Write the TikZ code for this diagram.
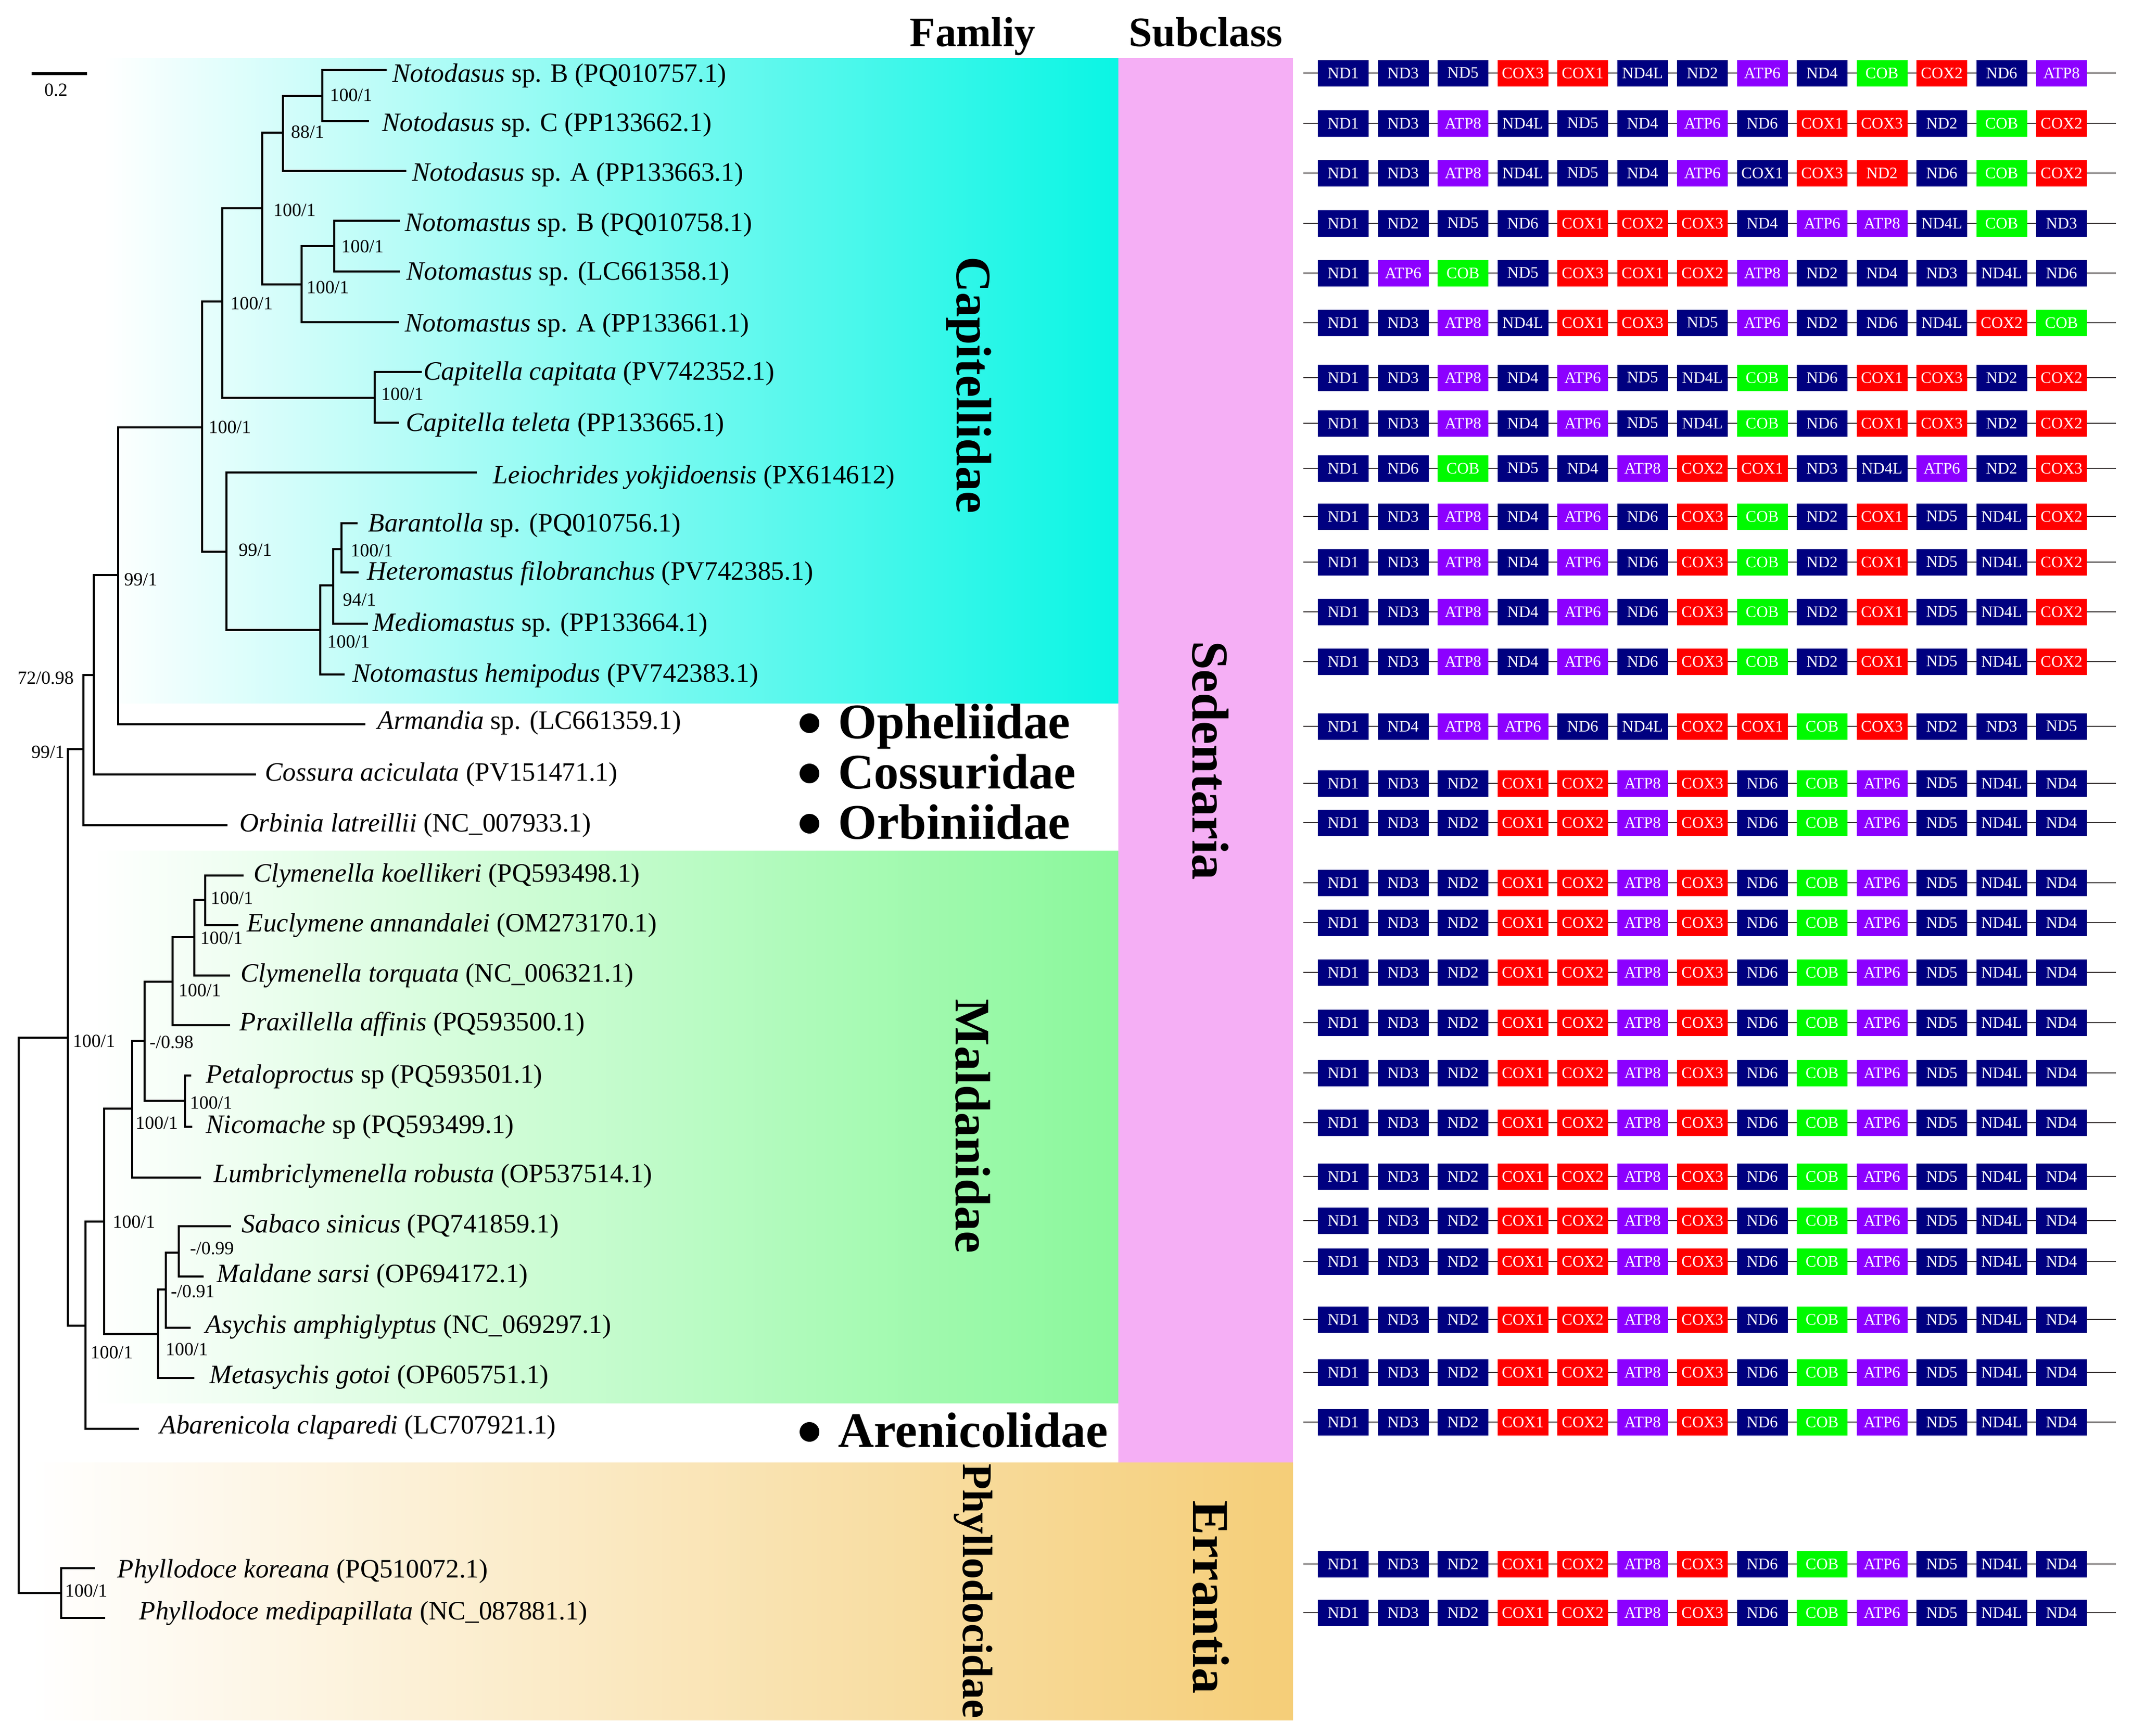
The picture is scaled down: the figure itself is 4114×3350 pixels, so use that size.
\documentclass[tikz,border=0pt]{standalone}
\usepackage{fontspec}
\setmainfont{Liberation Serif}
\usepackage{tikz}
\usetikzlibrary{calc}

\definecolor{capcol}{RGB}{10,245,228}
\definecolor{malcol}{RGB}{138,248,155}
\definecolor{errcol}{RGB}{245,206,120}
\definecolor{sedcol}{RGB}{245,175,245}
\definecolor{ndcol}{RGB}{0,0,128}
\definecolor{coxcol}{RGB}{255,0,0}
\definecolor{atpcol}{RGB}{140,0,255}
\definecolor{cobcol}{RGB}{0,250,0}
\definecolor{linecol}{RGB}{60,55,55}

% one gene order: #1 row, #2 y, #3 genes (name or name/style)
\newcommand{\generow}[3]{%
  \coordinate (b#1w) at (2515,#2);
  \coordinate (b#1e) at (4083,#2);
  \draw[backbone] (b#1w) -- (b#1e);
  \foreach \g/\s [count=\i] in {#3}
    \node[gene, \s] (g#1-\i) at ({2592+115.5*(\i-1)},#2) {\g};
}

\begin{document}
\begin{tikzpicture}[x=0.1mm, y=-0.1mm,
    branch/.style={line width=1.35pt},
    sp/.style={anchor=base west, inner sep=0pt, font=\fontsize{14.6pt}{16pt}\selectfont},
    boot/.style={anchor=west, inner sep=0pt, font=\fontsize{10.2pt}{11pt}\selectfont},
    famlbl/.style={inner sep=0pt, font=\bfseries\fontsize{27.3pt}{30pt}\selectfont},
    sublbl/.style={inner sep=0pt, font=\bfseries\fontsize{28.5pt}{30pt}\selectfont},
    headlbl/.style={anchor=base, inner sep=0pt, font=\bfseries\fontsize{23pt}{26pt}\selectfont},
    backbone/.style={draw=linecol, line width=0.8pt},
    gene/.style={minimum width=9.8mm, minimum height=5.1mm, inner sep=0pt,
                 text=white, font=\fontsize{8.8pt}{9pt}\selectfont},
    ND1/.style={fill=ndcol}, ND2/.style={fill=ndcol}, ND3/.style={fill=ndcol},
    ND4/.style={fill=ndcol}, ND4L/.style={fill=ndcol}, ND5/.style={fill=ndcol},
    ND6/.style={fill=ndcol}, COX1/.style={fill=coxcol}, COX2/.style={fill=coxcol},
    COX3/.style={fill=coxcol}, ATP6/.style={fill=atpcol}, ATP8/.style={fill=atpcol},
    COB/.style={fill=cobcol}]

    \useasboundingbox (0,0) rectangle (4114,3350);

    % Clade backgrounds
    \shade[left color=white, right color=capcol] (200,112) rectangle (2158,1357);
    \shade[left color=white, right color=malcol] (180,1642) rectangle (2158,2708);
    \shade[left color=white, right color=errcol] (60,2823) rectangle (2495,3320);
    \fill[sedcol] (2158,112) rectangle (2495,2823);

    % Headers
    \node[headlbl] (famh) at (1877,89) {Famliy};
    \node[headlbl] (subh) at (2327,89) {Subclass};

    % Family and subclass labels
    \node[famlbl, rotate=-90] (capit) at (1870,743) {Capitellidae};
    \node[famlbl, rotate=-90] (mald) at (1877,2174) {Maldanidae};
    \node[famlbl, rotate=-90, font=\bfseries\fontsize{23.3pt}{26pt}\selectfont]
        (phyl) at (1878,3071) {Phyllodocidae};
    \node[sublbl, rotate=-90] (sed) at (2336,1468) {Sedentaria};
    \node[sublbl, rotate=-90] (err) at (2337,3083) {Errantia};
    \node[famlbl, anchor=base west] (oph) at (1617,1425) {Opheliidae};
    \node[famlbl, anchor=base west] (cos) at (1617,1522) {Cossuridae};
    \node[famlbl, anchor=base west] (orb) at (1617,1619) {Orbiniidae};
    \node[famlbl, anchor=base west] (are) at (1617,2793) {Arenicolidae};
    \foreach \f in {oph,cos,orb,are}
        \fill ($(\f.base west)+(-55,-29)$) circle (19);

    % Scale bar
    \coordinate (sb0) at (61,142);
    \coordinate (sb1) at (168,142);
    \draw[line width=1.6pt] (sb0) -- (sb1);
    \node[boot, anchor=center] (sbl) at (108,174) {0.2};

    % Tips
    \foreach \n/\x/\y in {1/746/135, 2/712/234, 3/784/330, 4/772/426, 5/772/524,
        6/770/622, 7/814/718, 8/770/816, 9/920/912, 10/690/1010, 11/692/1105,
        12/710/1204, 13/665/1302, 14/705/1398, 15/494/1495, 16/439/1593,
        17/470/1690, 18/460/1786, 19/444/1883, 20/444/1979, 21/369/2076,
        22/371/2175, 23/388/2273, 24/446/2367, 25/393/2464, 26/368/2563,
        27/375/2660, 28/268/2758, 29/183/3027, 30/203/3123}
        \coordinate (t\n) at (\x,\y);

    % Internal nodes
    \coordinate (nA) at (622,185);
    \coordinate (nB) at (546,256);
    \coordinate (nC) at (645,475);
    \coordinate (nD) at (582,549);
    \coordinate (nE) at (506,402);
    \coordinate (nF) at (723,768);
    \coordinate (nG) at (429,582);
    \coordinate (nH) at (659,1060);
    \coordinate (nI) at (643,1130);
    \coordinate (nJ) at (618,1216);
    \coordinate (nK) at (437,1065);
    \coordinate (nL) at (390,825);
    \coordinate (nM) at (228,1110);
    \coordinate (nN) at (181,1303);
    \coordinate (nO) at (161,1446);
    \coordinate (nP) at (396,1737);
    \coordinate (nQ) at (375,1809);
    \coordinate (nR) at (333,1895);
    \coordinate (nS) at (357,2125);
    \coordinate (nT) at (279,2009);
    \coordinate (nU) at (255,2140);
    \coordinate (nV) at (345,2418);
    \coordinate (nW) at (320,2489);
    \coordinate (nX) at (305,2575);
    \coordinate (nY) at (201,2358);
    \coordinate (nZ) at (165,2559);
    \coordinate (nSed) at (131,2003);
    \coordinate (nPh) at (118,3075);
    \coordinate (root) at (36,2539);

    % Branches
    \draw[branch] (t1) -| (nA) |- (t2);
    \draw[branch] (nA) -| (nB) |- (t3);
    \draw[branch] (t4) -| (nC) |- (t5);
    \draw[branch] (nC) -| (nD) |- (t6);
    \draw[branch] (nB) -| (nE) |- (nD);
    \draw[branch] (t7) -| (nF) |- (t8);
    \draw[branch] (nE) -| (nG) |- (nF);
    \draw[branch] (t10) -| (nH) |- (t11);
    \draw[branch] (nH) -| (nI) |- (t12);
    \draw[branch] (nI) -| (nJ) |- (t13);
    \draw[branch] (t9) -| (nK) |- (nJ);
    \draw[branch] (nG) -| (nL) |- (nK);
    \draw[branch] (nL) -| (nM) |- (t14);
    \draw[branch] (nM) -| (nN) |- (t15);
    \draw[branch] (nN) -| (nO) |- (t16);
    \draw[branch] (t17) -| (nP) |- (t18);
    \draw[branch] (nP) -| (nQ) |- (t19);
    \draw[branch] (nQ) -| (nR) |- (t20);
    \draw[branch] (t21) -| (nS) |- (t22);
    \draw[branch] (nR) -| (nT) |- (nS);
    \draw[branch] (nT) -| (nU) |- (t23);
    \draw[branch] (t24) -| (nV) |- (t25);
    \draw[branch] (nV) -| (nW) |- (t26);
    \draw[branch] (nW) -| (nX) |- (t27);
    \draw[branch] (nU) -| (nY) |- (nX);
    \draw[branch] (nY) -| (nZ) |- (t28);
    \draw[branch] (nO) -| (nSed) |- (nZ);
    \draw[branch] (t29) -| (nPh) |- (t30);
    \draw[branch] (nSed) -| (root) |- (nPh);

    % Support values
    \node[boot] (bA) at (636,184) {100/1};
    \node[boot] (bB) at (561,255) {88/1};
    \node[boot] (bE) at (527,406) {100/1};
    \node[boot] (bC) at (658,476) {100/1};
    \node[boot] (bD) at (591,555) {100/1};
    \node[boot] (bG) at (444,586) {100/1};
    \node[boot] (bF) at (735,761) {100/1};
    \node[boot] (bL) at (402,825) {100/1};
    \node[boot] (bK) at (460,1062) {99/1};
    \node[boot] (bH) at (676,1063) {100/1};
    \node[boot] (bI) at (661,1158) {94/1};
    \node[boot] (bJ) at (631,1239) {100/1};
    \node[boot] (bM) at (239,1119) {99/1};
    \node[boot, anchor=east] (bN) at (143,1309) {72/0.98};
    \node[boot, anchor=east] (bO) at (125,1452) {99/1};
    \node[boot] (bP) at (406,1734) {100/1};
    \node[boot] (bQ) at (386,1811) {100/1};
    \node[boot] (bR) at (344,1912) {100/1};
    \node[boot] (bSed) at (140,2010) {100/1};
    \node[boot] (bT) at (288,2012) {-/0.98};
    \node[boot] (bS) at (366,2129) {100/1};
    \node[boot] (bU) at (261,2168) {100/1};
    \node[boot] (bY) at (217,2359) {100/1};
    \node[boot] (bV) at (366,2410) {-/0.99};
    \node[boot] (bW) at (329,2493) {-/0.91};
    \node[boot] (bX) at (319,2605) {100/1};
    \node[boot] (bZ) at (174,2611) {100/1};
    \node[boot] (bPh) at (125,3071) {100/1};

    % Species
    \node[sp] (s1) at (757,158) {\textit{Notodasus} sp. B (PQ010757.1)};
    \node[sp] (s2) at (737,253) {\textit{Notodasus} sp. C (PP133662.1)};
    \node[sp] (s3) at (795,349) {\textit{Notodasus} sp. A (PP133663.1)};
    \node[sp] (s4) at (781,446) {\textit{Notomastus} sp. B (PQ010758.1)};
    \node[sp] (s5) at (784,540) {\textit{Notomastus} sp. (LC661358.1)};
    \node[sp] (s6) at (781,640) {\textit{Notomastus} sp. A (PP133661.1)};
    \node[sp] (s7) at (817,733) {\textit{Capitella capitata} (PV742352.1)};
    \node[sp] (s8) at (783,832) {\textit{Capitella teleta} (PP133665.1)};
    \node[sp] (s9) at (951,933) {\textit{Leiochrides yokjidoensis} (PX614612)};
    \node[sp] (s10) at (710,1026) {\textit{Barantolla} sp. (PQ010756.1)};
    \node[sp] (s11) at (708,1119) {\textit{Heteromastus filobranchus} (PV742385.1)};
    \node[sp] (s12) at (719,1218) {\textit{Mediomastus} sp. (PP133664.1)};
    \node[sp] (s13) at (680,1316) {\textit{Notomastus hemipodus} (PV742383.1)};
    \node[sp] (s14) at (728,1407) {\textit{Armandia} sp. (LC661359.1)};
    \node[sp] (s15) at (511,1507) {\textit{Cossura aciculata} (PV151471.1)};
    \node[sp] (s16) at (462,1605) {\textit{Orbinia latreillii} (NC\_007933.1)};
    \node[sp] (s17) at (489,1702) {\textit{Clymenella koellikeri} (PQ593498.1)};
    \node[sp] (s18) at (476,1798) {\textit{Euclymene annandalei} (OM273170.1)};
    \node[sp] (s19) at (464,1895) {\textit{Clymenella torquata} (NC\_006321.1)};
    \node[sp] (s20) at (462,1989) {\textit{Praxillella affinis} (PQ593500.1)};
    \node[sp] (s21) at (397,2090) {\textit{Petaloproctus} sp (PQ593501.1)};
    \node[sp] (s22) at (397,2187) {\textit{Nicomache} sp (PQ593499.1)};
    \node[sp] (s23) at (412,2282) {\textit{Lumbriclymenella robusta} (OP537514.1)};
    \node[sp] (s24) at (466,2379) {\textit{Sabaco sinicus} (PQ741859.1)};
    \node[sp] (s25) at (418,2475) {\textit{Maldane sarsi} (OP694172.1)};
    \node[sp] (s26) at (396,2573) {\textit{Asychis amphiglyptus} (NC\_069297.1)};
    \node[sp] (s27) at (404,2670) {\textit{Metasychis gotoi} (OP605751.1)};
    \node[sp] (s28) at (308,2767) {\textit{Abarenicola claparedi} (LC707921.1)};
    \node[sp] (s29) at (226,3045) {\textit{Phyllodoce koreana} (PQ510072.1)};
    \node[sp] (s30) at (268,3126) {\textit{Phyllodoce medipapillata} (NC\_087881.1)};

    % Gene orders
    \generow{1}{141}{ND1,ND3,ND5,COX3,COX1,ND4L,ND2,ATP6,ND4,COB,COX2,ND6,ATP8}
    \generow{2}{238}{ND1,ND3,ATP8,ND4L,ND5,ND4,ATP6,ND6,COX1,COX3,ND2,COB,COX2}
    \generow{3}{334}{ND1,ND3,ATP8,ND4L,ND5,ND4,ATP6,COX1/ND1,COX3,ND2/COX1,ND6,COB,COX2}
    \generow{4}{431}{ND1,ND2,ND5,ND6,COX1,COX2,COX3,ND4,ATP6,ATP8,ND4L,COB,ND3}
    \generow{5}{527}{ND1,ATP6,COB,ND5,COX3,COX1,COX2,ATP8,ND2,ND4,ND3,ND4L,ND6}
    \generow{6}{623}{ND1,ND3,ATP8,ND4L,COX1,COX3,ND5,ATP6,ND2,ND6,ND4L,COX2,COB}
    \foreach \r/\y in {7/729,8/817}
        {\generow{\r}{\y}{ND1,ND3,ATP8,ND4,ATP6,ND5,ND4L,COB,ND6,COX1,COX3,ND2,COX2}}
    \generow{9}{904}{ND1,ND6,COB,ND5,ND4,ATP8,COX2,COX1,ND3,ND4L,ATP6,ND2,COX3}
    \foreach \r/\y in {10/997,11/1085,12/1181,13/1277}
        {\generow{\r}{\y}{ND1,ND3,ATP8,ND4,ATP6,ND6,COX3,COB,ND2,COX1,ND5,ND4L,COX2}}
    \generow{14}{1402}{ND1,ND4,ATP8,ATP6,ND6,ND4L,COX2,COX1,COB,COX3,ND2,ND3,ND5}
    \foreach \r/\y in {15/1512,16/1588,17/1704,18/1781,19/1877,20/1974,21/2071,
        22/2167,23/2271,24/2356,25/2435,26/2547,27/2649,28/2745,29/3019,30/3113}
        {\generow{\r}{\y}{ND1,ND3,ND2,COX1,COX2,ATP8,COX3,ND6,COB,ATP6,ND5,ND4L,ND4}}
\end{tikzpicture}
\end{document}
